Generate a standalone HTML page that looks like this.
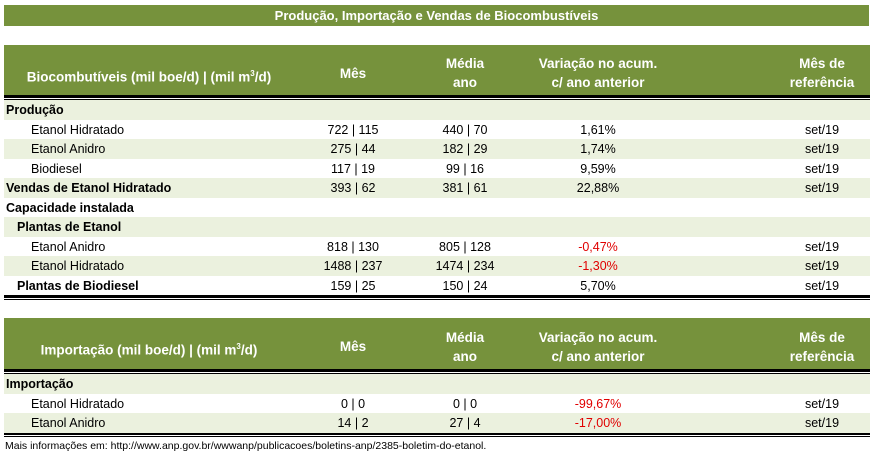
<!DOCTYPE html>
<html><head><meta charset="utf-8"><style>
body{margin:0;width:874px;height:457px;background:#fff;font-family:"Liberation Sans",sans-serif;position:relative;overflow:hidden}
.abs{position:absolute}
.title{left:4px;top:5px;width:865px;height:21px;background:#76923c;color:#fff;font-weight:bold;font-size:13px;text-align:center;line-height:21px}
.hdr{left:4px;width:866px;background:#76923c;color:#fff;font-weight:bold;font-size:13.5px}
.hdr div{position:absolute;text-align:center;line-height:19px}
.dl{left:4px;width:866px;border-top:3px solid #000;border-bottom:1px solid #000;height:1px}
.row{left:4px;width:866px;height:19.5px;font-size:12.5px;line-height:20px;color:#000}
.row.s{background:#ebf1de}
.row span{position:absolute;top:0}
.c1{left:300px;width:98px;text-align:center}
.c2{left:412px;width:98px;text-align:center}
.c3{left:544px;width:100px;text-align:center}
.c4{left:768px;width:100px;text-align:center}
.neg{color:#e00000}
.b{font-weight:bold}
</style></head><body>
<div class="abs title">Produção, Importação e Vendas de Biocombustíveis</div>

<div class="abs hdr" style="top:45px;height:50px">
<div style="left:0;width:290px;top:19px">Biocombutíveis (mil boe/d) | (mil m<sup style="font-size:8px">3</sup>/d)</div>
<div style="left:300px;width:98px;top:19px">Mês</div>
<div style="left:412px;width:98px;top:9px">Média<br>ano</div>
<div style="left:524px;width:140px;top:9px">Variação no acum.<br>c/ ano anterior</div>
<div style="left:768px;width:100px;top:9px">Mês de<br>referência</div>
</div>
<div class="abs dl" style="top:95px"></div>

<div class="abs dl" style="top:295px"></div>

<div class="abs hdr" style="top:318px;height:52px">
<div style="left:0;width:290px;top:19px">Importação (mil boe/d) | (mil m<sup style="font-size:8px">3</sup>/d)</div>
<div style="left:300px;width:98px;top:19px">Mês</div>
<div style="left:412px;width:98px;top:10px">Média<br>ano</div>
<div style="left:524px;width:140px;top:10px">Variação no acum.<br>c/ ano anterior</div>
<div style="left:768px;width:100px;top:10px">Mês de<br>referência</div>
</div>
<div class="abs dl" style="top:369px"></div>

<div class="abs dl" style="top:432px"></div>
<div class="abs" style="left:5px;top:440px;font-size:10.5px;color:#000">Mais informações em: http://www.anp.gov.br/wwwanp/publicacoes/boletins-anp/2385-boletim-do-etanol.</div>

<script>
const labels1=["Produção","Etanol Hidratado","Etanol Anidro","Biodiesel","Vendas de Etanol Hidratado","Capacidade instalada","Plantas de Etanol","Etanol Anidro","Etanol Hidratado","Plantas de Biodiesel"];
const indent1=[6,31,31,31,6,6,17,31,31,17];
const bold1=[1,0,0,0,1,1,1,0,0,1];
const mes1=["","722 | 115","275 | 44","117 | 19","393 | 62","","","818 | 130","1488 | 237","159 | 25"];
const media1=["","440 | 70","182 | 29","99 | 16","381 | 61","","","805 | 128","1474 | 234","150 | 24"];
const var1=["","1,61%","1,74%","9,59%","22,88%","","","-0,47%","-1,30%","5,70%"];
const ref1=["","set/19","set/19","set/19","set/19","","","set/19","set/19","set/19"];
const labels2=["Importação","Etanol Hidratado","Etanol Anidro"];
const indent2=[6,31,31];
const bold2=[1,0,0];
const mes2=["","0 | 0","14 | 2"];
const media2=["","0 | 0","27 | 4"];
const var2=["","-99,67%","-17,00%"];
const ref2=["","set/19","set/19"];
function build(top,labels,indent,bold,mes,media,vr,ref,prefix){
  for(let i=0;i<labels.length;i++){
    const r=document.createElement('div');
    r.className='abs row'+(i%2==0?' s':'');
    r.style.top=(top+i*19.5)+'px';
    
    
    r.innerHTML='<span class="'+(bold[i]?'b':'')+'" style="left:'+(indent[i]-4)+'px">'+labels[i]+'</span>'+
      '<span class="c1">'+mes[i]+'</span><span class="c2">'+media[i]+'</span>'+
      '<span class="c3'+(vr[i].startsWith('-')?' neg':'')+'">'+vr[i]+'</span><span class="c4">'+ref[i]+'</span>';
    document.body.appendChild(r);
  }
}
build(100,labels1,indent1,bold1,mes1,media1,var1,ref1,'biocomb');
build(374,labels2,indent2,bold2,mes2,media2,var2,ref2,'importacao');
</script>
</body></html>
